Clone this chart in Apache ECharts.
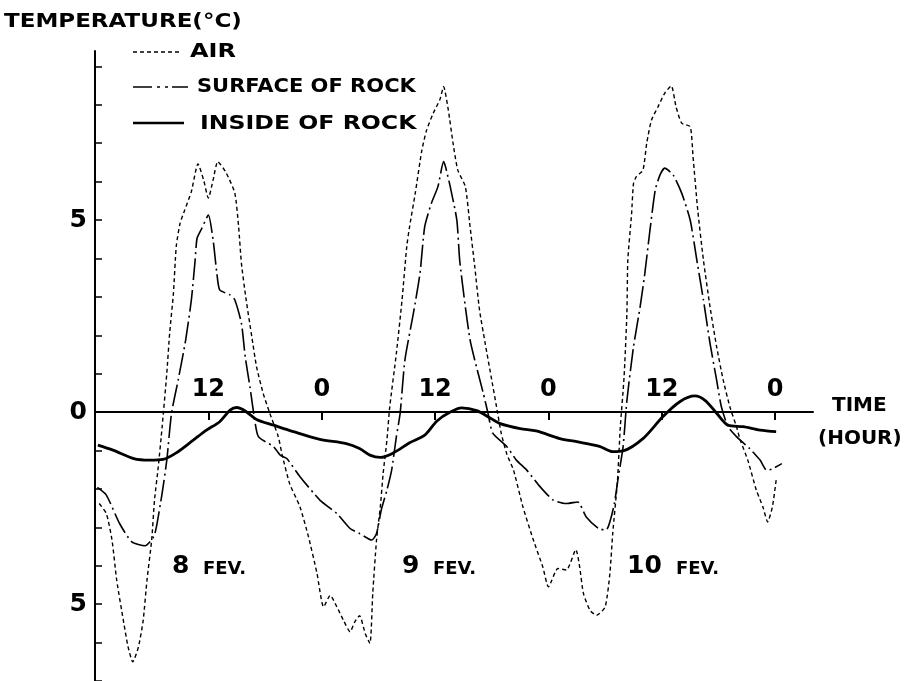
<!DOCTYPE html>
<html>
<head>
<meta charset="utf-8">
<script src="https://cdn.jsdelivr.net/npm/echarts@6/dist/echarts.min.js"></script>
<style>
html,body{margin:0;padding:0;background:#fff;}
#chart{width:908px;height:681px;}
</style>
</head>
<body>
<div id="chart"></div>
<script>
// ---- data (hours since 0h on 8 Feb, temperature in °C) ----
const airH = [0.45,1.2,1.8,2.3,3.0,3.5,4.0,4.6,5.1,5.5, 6.0,6.3,6.7,7.1,7.6,7.9,8.3,8.6,9.0,9.5,
  10.2,10.9,11.5,12.0,12.5,13.0,13.9,14.8,15.2,15.5, 16.0,16.6,17.1,17.8,18.5,19.4,19.8,20.6,21.7,22.6,
  23.5,24.2,24.9,25.6,26.3,27.0,27.5,28.0,28.6,29.1, 29.4,29.8,30.2,30.5,30.9,31.2,31.9,32.5,33.0,33.3,
  33.9,34.6,35.1,35.8,36.5,36.9,37.4,37.9,38.4,39.2, 39.7,40.2,40.7,41.3,42.0,42.5,43.0,43.6,44.3,45.3,
  46.4,47.4,48.0,49.0,49.9,50.9,51.3,51.7,52.4,53.1, 54.0,54.5,54.8,55.3,55.6,56.0,56.3,56.4,56.8,57.0,
  57.3,58.0,58.4,58.9,59.6,60.3,61.0,61.5,62.1,63.0, 63.3,63.8,64.4,65.1,65.8,66.5,67.2,67.9,68.3,69.1,
  70.0,70.7,71.2,71.7,72.1];
const airT = [-2.38,-2.64,-3.33,-4.38,-5.42,-6.11,-6.50,-6.11,-5.42,-4.38, -3.33,-2.29,-1.42,-0.40,1.01,2.05,3.09,4.31,4.91,5.26,
  5.74,6.46,6.04,5.57,6.04,6.52,6.22,5.70,4.83,3.87, 2.92,1.96,1.18,0.49,-0.03,-0.64,-1.10,-1.86,-2.47,-3.25,
  -4.20,-5.07,-4.77,-5.07,-5.42,-5.72,-5.46,-5.30,-5.76,-6.02, -4.72,-3.33,-2.47,-1.60,-0.73,0.14,1.53,2.92,4.31,4.83,
  5.70,6.82,7.34,7.78,8.13,8.47,7.86,7.00,6.30,5.87, 4.83,3.78,2.66,1.79,0.83,0.14,-0.55,-1.10,-1.51,-2.47,
  -3.33,-4.03,-4.55,-4.07,-4.11,-3.58,-4.03,-4.72,-5.16,-5.29, -5.07,-4.20,-3.16,-1.80,-0.40,0.90,2.57,3.96,5.17,5.95,
  6.13,6.30,7.00,7.60,7.95,8.30,8.49,7.95,7.52,7.43, 6.65,5.26,3.96,2.74,1.70,0.83,0.14,-0.38,-0.73,-1.25,
  -2.03,-2.47,-2.86,-2.47,-1.77];

const surfH = [0.25,1.2,2.6,3.9,5.3,6.2,6.5,7.1,7.6,8.1, 8.8,9.6,10.2,10.6,10.8,11.3,12.0,12.5,12.9,13.2,
  14.3,14.8,15.5,15.9,16.4,16.8,17.3,18.9,19.6,20.3, 21.7,23.8,25.6,27.0,28.0,29.3,29.8,30.3,30.9,31.4,
  31.9,32.3,32.8,33.7,34.4,34.9,35.6,36.3,36.9,37.1, 37.6,38.3,38.6,39.2,39.7,40.2,41.1,41.6,42.1,43.6,
  44.6,45.7,47.1,48.5,49.9,51.1,52.0,53.3,54.1,54.9, 55.4,55.9,56.3,57.0,57.7,58.2,58.7,59.3,59.8,60.3,
  61.2,62.1,63.0,63.7,64.4,65.1,65.8,66.3,67.0,67.9, 69.3,70.4,71.1,71.6,72.7];
const surfT = [-1.96,-2.16,-2.90,-3.38,-3.48,-3.25,-2.99,-2.12,-1.25,-0.03, 0.83,1.88,2.92,3.96,4.52,4.78,5.13,4.48,3.61,3.18,
  3.05,2.92,2.31,1.44,0.66,-0.03,-0.64,-0.90,-1.12,-1.21, -1.68,-2.29,-2.64,-3.03,-3.16,-3.33,-3.16,-2.55,-2.03,-1.51,
  -0.64,-0.03,1.35,2.57,3.61,4.83,5.43,5.87,6.52,6.39, 5.87,5.0,3.96,2.74,1.88,1.35,0.49,-0.03,-0.55,-0.90,
  -1.25,-1.51,-1.94,-2.29,-2.38,-2.34,-2.73,-3.03,-3.07,-2.47, -1.68,-0.90,0.3,1.70,2.74,3.61,4.65,5.78,6.17,6.35,
  6.17,5.70,5.0,3.96,2.92,1.79,0.83,0.14,-0.38,-0.64, -0.95,-1.25,-1.51,-1.49,-1.34];

const insideH = [0.3,1.9,4.1,5.8,7.2,8.6,10.4,11.8,13.2,14.3, 15.0,15.9,17.1,18.9,21.0,23.8,26.6,28.0,29.1,30.2,
  31.6,33.3,34.9,36.2,37.6,38.8,40.4,41.6,42.9,45.0, 46.7,49.2,51.0,53.4,54.8,55.9,58.0,60.1,61.9,63.5,
  64.6,65.8,67.0,68.6,70.4,72.1];
const insideT = [-0.86,-0.99,-1.21,-1.25,-1.23,-1.06,-0.73,-0.47,-0.25,0.05, 0.12,0.03,-0.19,-0.34,-0.51,-0.71,-0.82,-0.95,-1.12,-1.18,
  -1.06,-0.80,-0.60,-0.23,0.00,0.11,0.04,-0.12,-0.30,-0.43, -0.49,-0.69,-0.77,-0.89,-1.03,-1.01,-0.69,-0.12,0.27,0.42,
  0.30,-0.03,-0.34,-0.38,-0.47,-0.51];

const seriesNames = ['AIR', 'SURFACE OF ROCK', 'INSIDE OF ROCK'];
const xTickLabels = {12: '12', 24: '0', 36: '12', 48: '0', 60: '12', 72: '0'};
const yTickLabels = {5: '5', 0: '0', '-5': '5'};
const dayLabels = [['8', 'FEV.'], ['9', 'FEV.'], ['10', 'FEV.']];
const titleText = 'TEMPERATURE(°C)';
const timeName = ['TIME', '(HOUR)'];

const zip = (h, t) => h.map((v, i) => [v, t[i]]);
const FONT = '"DejaVu Sans", "Liberation Sans", sans-serif';

const chart = echarts.init(document.getElementById('chart'), null, {renderer: 'canvas'});

function txt(text, x, y, size, sx) {
  return {type: 'text', x: x, y: y, scaleX: sx || 1, z: 100,
    style: {text: text, fill: '#000', fontFamily: FONT, fontWeight: 'bold', fontSize: size,
            align: 'left', verticalAlign: 'middle'}};
}

const dayPos = [[172, 203], [402, 433], [627, 676]];
const graphics = [
  txt(titleText, 4, 22, 20, 1.15),
  {type: 'line', shape: {x1: 133, y1: 52, x2: 181, y2: 52}, style: {stroke: '#000', lineWidth: 1.3, lineDash: [4, 3]}},
  {type: 'line', shape: {x1: 133, y1: 87, x2: 188, y2: 87}, style: {stroke: '#000', lineWidth: 1.6, lineDash: [19, 5, 3, 5, 3, 4, 30, 0]}},
  {type: 'line', shape: {x1: 133, y1: 123, x2: 184, y2: 123}, style: {stroke: '#000', lineWidth: 2.6}},
  txt(seriesNames[0], 190, 52, 20, 1.2),
  txt(seriesNames[1], 197, 87, 20, 1.05),
  txt(seriesNames[2], 200, 124, 20, 1.18),
  txt(timeName[0], 832, 406, 20, 1.0),
  txt(timeName[1], 818, 439, 20, 1.0)
];
dayLabels.forEach((d, i) => {
  graphics.push(txt(d[0], dayPos[i][0], 566, 25, 1.0));
  graphics.push(txt(d[1], dayPos[i][1], 569, 18, 1.0));
});

const option = {
  backgroundColor: '#fff',
  animation: false,
  grid: {left: 95, right: 95, top: 51, bottom: 0, containLabel: false},
  xAxis: {
    type: 'value', min: 0, max: 76, interval: 12,
    axisLine: {onZero: false, lineStyle: {color: '#000', width: 2}},
    axisTick: {show: true, inside: false, length: 8, lineStyle: {color: '#000', width: 2}},
    axisLabel: {inside: true, margin: 10, color: '#000', fontFamily: FONT, fontWeight: 'bold', fontSize: 24,
      showMinLabel: true, showMaxLabel: false,
      formatter: v => xTickLabels[v] || ''},
    splitLine: {show: false}
  },
  yAxis: {
    type: 'value', min: -7, max: 9.4, interval: 1,
    axisLine: {show: true, onZero: false, lineStyle: {color: '#000', width: 2}},
    axisTick: {show: true, inside: true, length: 7, lineStyle: {color: '#000', width: 1.5}},
    axisLabel: {margin: 8, color: '#000', fontFamily: FONT, fontWeight: 'bold', fontSize: 25,
      showMaxLabel: false, formatter: v => yTickLabels[v] || ''},
    splitLine: {show: false}
  },
  series: [
    {name: seriesNames[0], type: 'line', data: zip(airH, airT), showSymbol: false, symbol: 'none', smooth: 0.2,
      lineStyle: {color: '#000', width: 1.4, type: [4, 3]}},
    {name: seriesNames[1], type: 'line', data: zip(surfH, surfT), showSymbol: false, symbol: 'none', smooth: 0.2,
      lineStyle: {color: '#000', width: 1.6, type: [22, 4, 2, 4]}},
    {name: seriesNames[2], type: 'line', data: zip(insideH, insideT), showSymbol: false, symbol: 'none', smooth: 0.3,
      lineStyle: {color: '#000', width: 2.8}}
  ],
  graphic: graphics
};
chart.setOption(option);
// move the time axis (with its labels) up to the 0 °C line
const zeroY = chart.convertToPixel({yAxisIndex: 0}, 0);
const bottomY = chart.convertToPixel({yAxisIndex: 0}, -7);
chart.setOption({xAxis: {offset: zeroY - bottomY}});
</script>
</body>
</html>
